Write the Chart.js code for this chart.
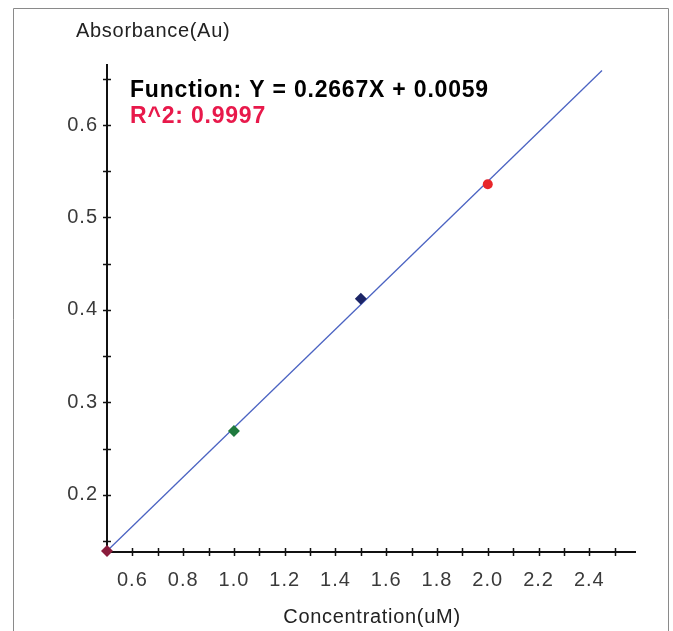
<!DOCTYPE html>
<html>
<head>
<meta charset="utf-8">
<script src="https://cdn.jsdelivr.net/npm/chart.js@4.4.1/dist/chart.umd.min.js"></script>
<style>
  html, body { margin: 0; padding: 0; background: #fff; }
  #wrap { width: 673px; height: 631px; position: relative; }
</style>
</head>
<body>
<div id="wrap"><canvas id="c"></canvas></div>
<script>
// ---- data ----
const concentrations = [0.5, 1.0, 1.5, 2.0];
const absorbances = [0.139, 0.269, 0.412, 0.536];
const fitLineX = [0.5, 2.45];
const fitLineY = [0.139, 0.659];
const xTickValues = [0.6, 0.7, 0.8, 0.9, 1.0, 1.1, 1.2, 1.3, 1.4, 1.5, 1.6, 1.7, 1.8, 1.9, 2.0, 2.1, 2.2, 2.3, 2.4, 2.5];
const xTickLabels = ['0.6', '', '0.8', '', '1.0', '', '1.2', '', '1.4', '', '1.6', '', '1.8', '', '2.0', '', '2.2', '', '2.4', ''];
const yTickValues = [0.15, 0.2, 0.25, 0.3, 0.35, 0.4, 0.45, 0.5, 0.55, 0.6, 0.65];
const yTickLabels = ['', '0.2', '', '0.3', '', '0.4', '', '0.5', '', '0.6', ''];
const functionText = 'Function: Y = 0.2667X + 0.0059';
const r2Text = 'R^2: 0.9997';
const xTitle = 'Concentration(uM)';
const yTitle = 'Absorbance(Au)';

// ---- styles ----
const pointColors = ['#8a1c3c', '#1f7a3e', '#1c2566', '#e8262a'];
const pointStyles = ['rectRot', 'rectRot', 'rectRot', 'circle'];
const pointRadii = [6, 6, 6, 5];

const decor = {
  id: 'decor',
  beforeDraw(chart) {
    const ctx = chart.ctx;
    ctx.letterSpacing = '1px';
  },
  afterDraw(chart) {
    const ctx = chart.ctx;
    const xs = chart.scales.x, ys = chart.scales.y;
    const area = chart.chartArea;
    ctx.save();
    // frame
    ctx.strokeStyle = '#8a8a8a';
    ctx.lineWidth = 1;
    ctx.beginPath();
    ctx.moveTo(13.5, 631);
    ctx.lineTo(13.5, 8.5);
    ctx.lineTo(668.5, 8.5);
    ctx.lineTo(668.5, 631);
    ctx.stroke();
    // tick marks crossing the axes
    ctx.strokeStyle = '#111';
    ctx.lineWidth = 1.5;
    ctx.beginPath();
    xTickValues.forEach(v => {
      const px = Math.round(xs.getPixelForValue(v)) + 0.5;
      ctx.moveTo(px, area.bottom - 4);
      ctx.lineTo(px, area.bottom + 4);
    });
    yTickValues.forEach(v => {
      const py = Math.round(ys.getPixelForValue(v)) + 0.5;
      ctx.moveTo(area.left - 4, py);
      ctx.lineTo(area.left + 4, py);
    });
    ctx.stroke();
    // titles
    ctx.letterSpacing = '0.7px';
    ctx.fillStyle = '#222';
    ctx.font = '20px "Liberation Sans", Arial, sans-serif';
    ctx.textBaseline = 'alphabetic';
    ctx.textAlign = 'left';
    ctx.fillText(yTitle, 76, 37);
    ctx.textAlign = 'center';
    ctx.fillText(xTitle, (area.left + area.right) / 2 + 1, 623);
    // annotation
    ctx.textAlign = 'left';
    ctx.letterSpacing = '0.8px';
    ctx.font = 'bold 23px "Liberation Sans", Arial, sans-serif';
    ctx.fillStyle = '#000';
    ctx.fillText(functionText, 130, 97);
    ctx.fillStyle = '#e8194b';
    ctx.fillText(r2Text, 130, 123);
    ctx.restore();
  }
};

const tickFont = { family: '"Liberation Sans", Arial, sans-serif', size: 20 };

new Chart(document.getElementById('c'), {
  type: 'scatter',
  data: {
    datasets: [
      {
        type: 'line',
        data: fitLineX.map((x, i) => ({ x, y: fitLineY[i] })),
        borderColor: '#4b63c2',
        borderWidth: 1.3,
        pointRadius: 0,
        fill: false,
        clip: false,
        order: 2
      },
      {
        data: concentrations.map((x, i) => ({ x, y: absorbances[i] })),
        pointBackgroundColor: pointColors,
        pointBorderColor: pointColors,
        pointStyle: pointStyles,
        pointRadius: pointRadii,
        pointBorderWidth: 0,
        clip: false,
        order: 1
      }
    ]
  },
  options: {
    responsive: true,
    maintainAspectRatio: false,
    animation: false,
    layout: { padding: { left: 13, top: 65, right: 38, bottom: 0 } },
    plugins: { legend: { display: false }, tooltip: { enabled: false } },
    scales: {
      x: {
        type: 'linear',
        min: 0.5,
        max: 2.58,
        afterBuildTicks: s => { s.ticks = xTickValues.map(v => ({ value: v })); },
        afterFit: s => { s.height = 79; },
        ticks: {
          autoSkip: false,
          maxRotation: 0,
          padding: 16,
          color: '#3a3a3a',
          font: tickFont,
          callback: (v, i) => xTickLabels[i]
        },
        grid: { display: false, drawTicks: false },
        border: { display: true, color: '#111', width: 2 }
      },
      y: {
        type: 'linear',
        min: 0.138,
        max: 0.665,
        afterBuildTicks: s => { s.ticks = yTickValues.map(v => ({ value: v })); },
        afterFit: s => { s.width = 94; },
        ticks: {
          autoSkip: false,
          padding: 9,
          color: '#3a3a3a',
          font: tickFont,
          callback: (v, i) => yTickLabels[i]
        },
        grid: { display: false, drawTicks: false },
        border: { display: true, color: '#111', width: 2 }
      }
    }
  },
  plugins: [decor]
});
</script>
</body>
</html>
